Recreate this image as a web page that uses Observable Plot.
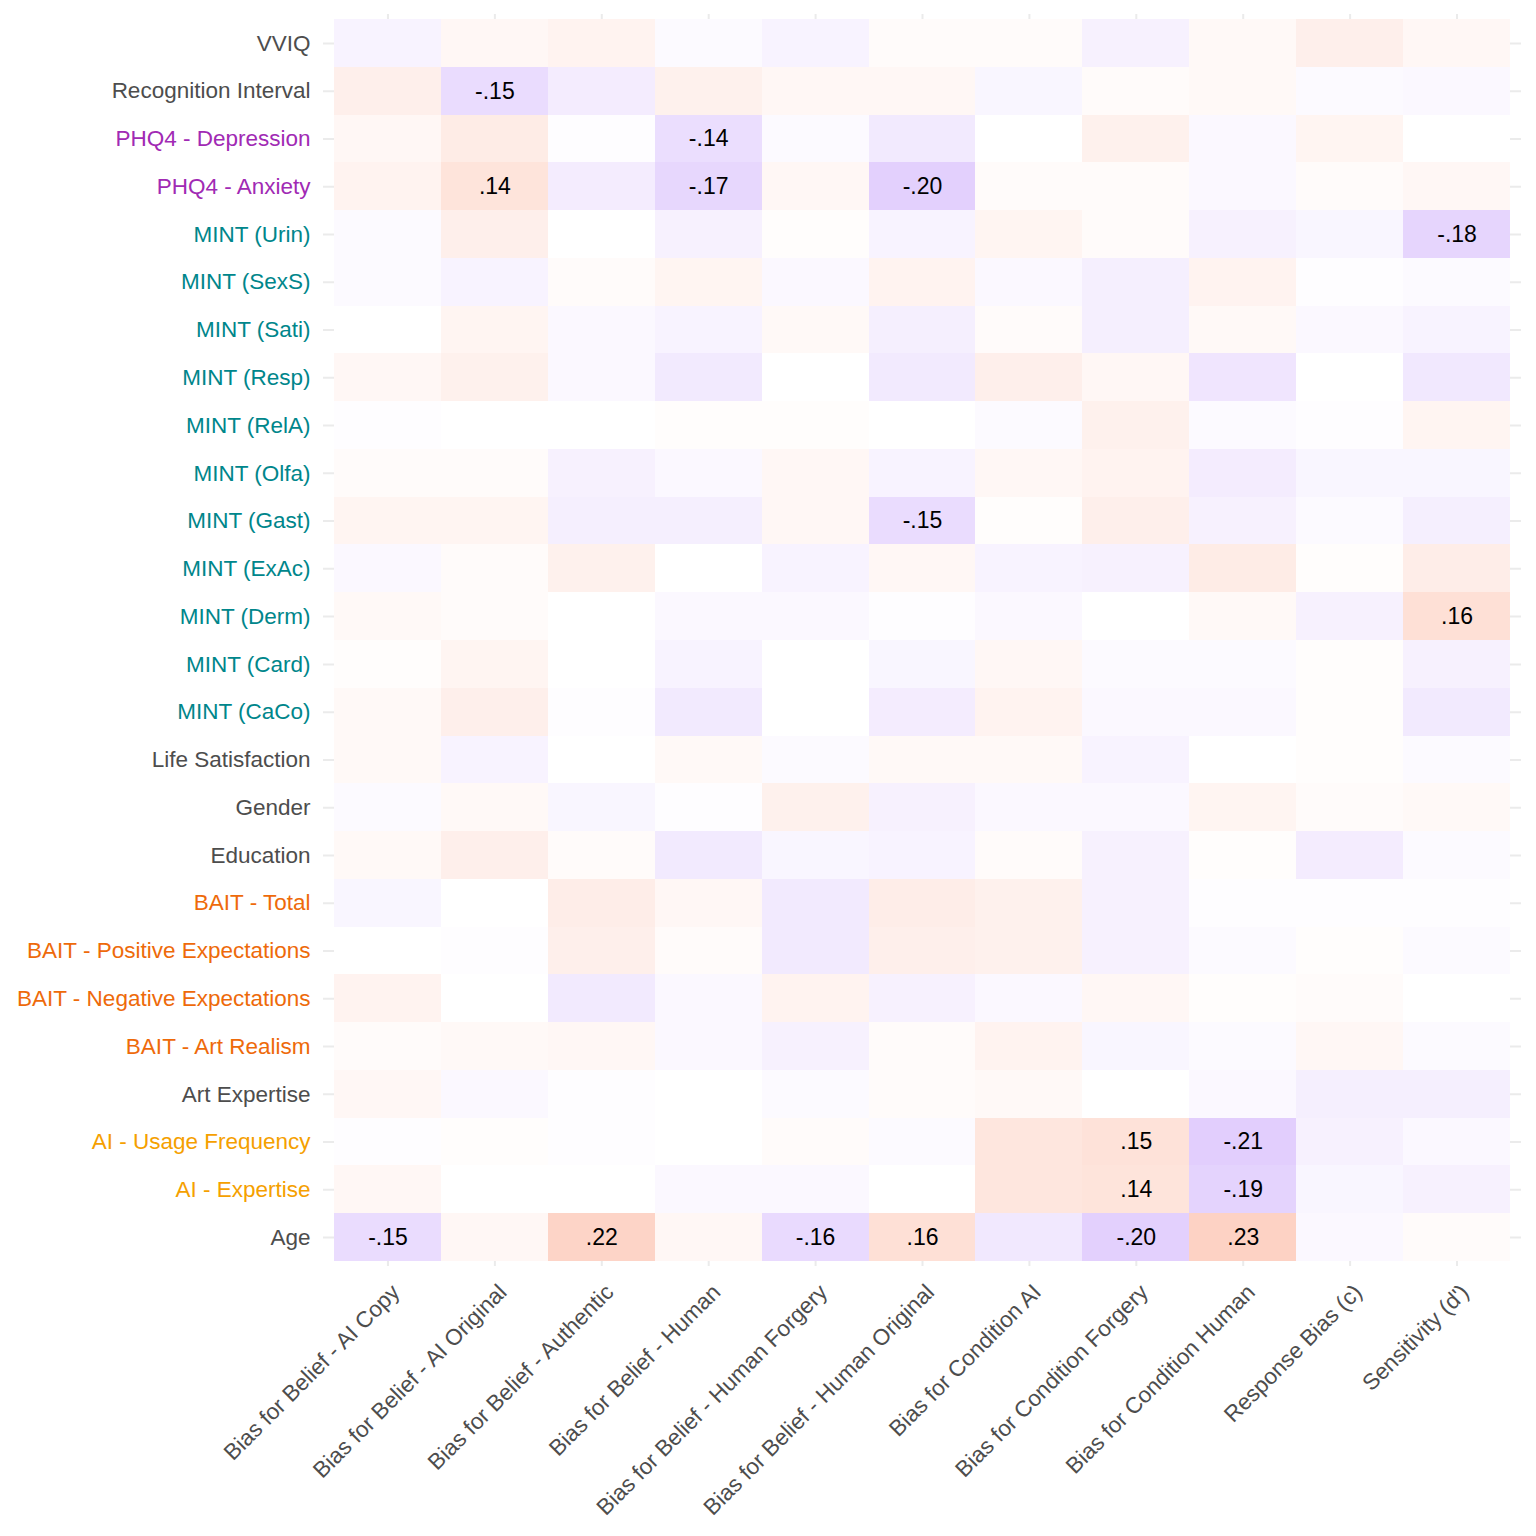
<!DOCTYPE html>
<html>
<head>
<meta charset="utf-8">
<script src="https://cdn.jsdelivr.net/npm/d3@7"></script>
<script src="https://cdn.jsdelivr.net/npm/@observablehq/plot@0.6"></script>
<style>
  html, body { margin: 0; padding: 0; background: #ffffff; }
  #chart { width: 1536px; height: 1536px; }
</style>
</head>
<body>
<div id="chart"></div>
<script>
// Rows, top to bottom
const rows = [
  "VVIQ", "Recognition Interval", "PHQ4 - Depression", "PHQ4 - Anxiety",
  "MINT (Urin)", "MINT (SexS)", "MINT (Sati)", "MINT (Resp)", "MINT (RelA)",
  "MINT (Olfa)", "MINT (Gast)", "MINT (ExAc)", "MINT (Derm)", "MINT (Card)",
  "MINT (CaCo)", "Life Satisfaction", "Gender", "Education", "BAIT - Total",
  "BAIT - Positive Expectations", "BAIT - Negative Expectations",
  "BAIT - Art Realism", "Art Expertise", "AI - Usage Frequency",
  "AI - Expertise", "Age"
];

// Columns, left to right
const columns = [
  "Bias for Belief - AI Copy", "Bias for Belief - AI Original",
  "Bias for Belief - Authentic", "Bias for Belief - Human",
  "Bias for Belief - Human Forgery", "Bias for Belief - Human Original",
  "Bias for Condition AI", "Bias for Condition Forgery",
  "Bias for Condition Human", "Response Bias (c)", "Sensitivity (d')"
];

// Correlations per column, in row order (top to bottom)
const beliefAICopy      = [-0.05, 0.08, 0.04, 0.06, -0.02, -0.02, 0.00, 0.04, -0.01, 0.02, 0.05, -0.03, 0.03, 0.01, 0.03, 0.03, -0.02, 0.03, -0.04, 0.00, 0.06, 0.02, 0.04, -0.01, 0.04, -0.15];
const beliefAIOriginal  = [0.04, -0.15, 0.10, 0.14, 0.08, -0.05, 0.05, 0.07, 0.00, 0.02, 0.05, 0.02, 0.02, 0.05, 0.08, -0.05, 0.03, 0.08, 0.00, -0.01, 0.00, 0.03, -0.03, 0.01, 0.00, 0.04];
const beliefAuthentic   = [0.06, -0.08, -0.01, -0.08, 0.00, 0.02, -0.03, -0.03, 0.00, -0.06, -0.07, 0.07, 0.00, 0.00, -0.01, 0.00, -0.04, 0.02, 0.09, 0.08, -0.09, 0.04, -0.01, -0.01, 0.00, 0.22];
const beliefHuman       = [-0.02, 0.07, -0.14, -0.17, -0.06, 0.05, -0.05, -0.09, 0.01, -0.03, -0.07, 0.00, -0.03, -0.05, -0.09, 0.03, -0.01, -0.09, 0.04, 0.02, -0.03, -0.03, 0.00, 0.00, -0.03, 0.04];
const beliefHumanForg   = [-0.05, 0.04, -0.02, 0.04, 0.01, -0.03, 0.03, 0.00, 0.01, 0.04, 0.04, -0.05, -0.03, 0.00, 0.00, -0.02, 0.07, -0.04, -0.09, -0.09, 0.06, -0.06, -0.02, 0.02, -0.03, -0.16];
const beliefHumanOrig   = [0.02, 0.04, -0.09, -0.20, -0.05, 0.06, -0.07, -0.09, 0.00, -0.05, -0.15, 0.04, -0.01, -0.04, -0.08, 0.03, -0.06, -0.05, 0.09, 0.08, -0.06, 0.02, 0.02, -0.02, 0.00, 0.16];
const conditionAI       = [0.02, -0.04, 0.00, 0.02, 0.05, -0.03, 0.02, 0.08, -0.02, 0.04, 0.01, -0.05, -0.03, 0.04, 0.06, 0.03, -0.03, 0.02, 0.07, 0.07, -0.03, 0.06, 0.03, 0.13, 0.13, -0.10];
const conditionForgery  = [-0.06, 0.02, 0.07, 0.02, 0.02, -0.07, -0.07, 0.04, 0.07, 0.06, 0.08, -0.06, 0.00, -0.02, -0.03, -0.05, -0.03, -0.06, -0.06, -0.06, 0.04, -0.04, 0.00, 0.15, 0.14, -0.20];
const conditionHuman    = [0.03, 0.03, -0.03, -0.03, -0.06, 0.06, 0.03, -0.11, -0.02, -0.08, -0.06, 0.10, 0.03, -0.02, -0.03, 0.00, 0.05, 0.01, -0.01, -0.02, 0.01, -0.02, -0.03, -0.21, -0.19, 0.23];
const responseBias      = [0.08, -0.02, 0.05, 0.02, -0.04, -0.01, -0.03, 0.00, -0.01, -0.04, -0.02, 0.01, -0.06, 0.01, 0.01, 0.01, 0.02, -0.08, -0.01, 0.01, 0.02, 0.04, -0.07, -0.06, -0.04, -0.03];
const sensitivity       = [0.04, -0.03, 0.00, 0.04, -0.18, -0.02, -0.05, -0.10, 0.05, -0.04, -0.07, 0.09, 0.16, -0.06, -0.09, -0.02, 0.03, -0.02, -0.01, -0.02, 0.00, -0.02, -0.07, -0.03, -0.06, 0.02];

// Significant cells (labelled), as [row, column index]
const significant = [
  ["Recognition Interval", 1], ["PHQ4 - Depression", 3], ["PHQ4 - Anxiety", 1],
  ["PHQ4 - Anxiety", 3], ["PHQ4 - Anxiety", 5], ["MINT (Urin)", 10],
  ["MINT (Gast)", 5], ["MINT (Derm)", 10], ["AI - Usage Frequency", 7],
  ["AI - Usage Frequency", 8], ["AI - Expertise", 7], ["AI - Expertise", 8],
  ["Age", 0], ["Age", 2], ["Age", 4], ["Age", 5], ["Age", 7], ["Age", 8]
];

// Y label groups
const phq4Rows = rows.filter(r => r.startsWith("PHQ4"));
const mintRows = rows.filter(r => r.startsWith("MINT"));
const baitRows = rows.filter(r => r.startsWith("BAIT"));
const aiRows = ["AI - Usage Frequency", "AI - Expertise"];
const otherRows = rows.filter(r => !phq4Rows.includes(r) && !mintRows.includes(r) && !baitRows.includes(r) && !aiRows.includes(r));

const seriesByColumn = [beliefAICopy, beliefAIOriginal, beliefAuthentic, beliefHuman,
  beliefHumanForg, beliefHumanOrig, conditionAI, conditionForgery, conditionHuman,
  responseBias, sensitivity];

const table = [];
columns.forEach((c, j) => rows.forEach((r, i) => table.push({row: r, col: c, r: seriesByColumn[j][i]})));
const sigKeys = new Set(significant.map(([r, j]) => r + "|" + columns[j]));
const labelled = table.filter(d => sigKeys.has(d.row + "|" + d.col));
const fmt = v => d3.format(".2f")(v).replace("\u2212", "-").replace("0.", ".");

const axisFont = 22.5;
const chart = Plot.plot({
  width: 1536,
  height: 1536,
  marginLeft: 323,
  marginRight: 15,
  marginTop: 14,
  marginBottom: 270,
  style: {fontFamily: "'Liberation Sans', Arial, sans-serif", background: "#ffffff"},
  x: {domain: columns, padding: 0, round: false, insetLeft: 11, insetRight: 11, label: null},
  y: {domain: rows, padding: 0, round: false, insetTop: 5, insetBottom: 5, label: null},
  color: {type: "linear", domain: [-1, 0, 1], range: ["#7316F6", "#ffffff", "#F73C00"], interpolate: "rgb"},
  marks: [
    Plot.gridX({stroke: "#EBEBEB", strokeOpacity: 1, strokeWidth: 2}),
    Plot.gridY({stroke: "#EBEBEB", strokeOpacity: 1, strokeWidth: 2}),
    Plot.cell(table, {x: "col", y: "row", fill: "r", inset: 0, shapeRendering: "crispEdges"}),
    Plot.text(labelled, {x: "col", y: "row", text: d => fmt(d.r), fill: "#000000", fontSize: 23}),
    Plot.axisX({tickRotate: -45, tickSize: 0, tickPadding: 22, dx: 8, fontSize: axisFont, fill: "#4D4D4D"}),
    Plot.axisY(otherRows, {tickSize: 0, tickPadding: 13, fontSize: axisFont, fill: "#4D4D4D"}),
    Plot.axisY(phq4Rows, {tickSize: 0, tickPadding: 13, fontSize: axisFont, fill: "#A12AB4"}),
    Plot.axisY(mintRows, {tickSize: 0, tickPadding: 13, fontSize: axisFont, fill: "#00868B"}),
    Plot.axisY(baitRows, {tickSize: 0, tickPadding: 13, fontSize: axisFont, fill: "#EE6A0A"}),
    Plot.axisY(aiRows, {tickSize: 0, tickPadding: 13, fontSize: axisFont, fill: "#F5A000"})
  ]
});
document.getElementById("chart").appendChild(chart);
</script>
</body>
</html>
